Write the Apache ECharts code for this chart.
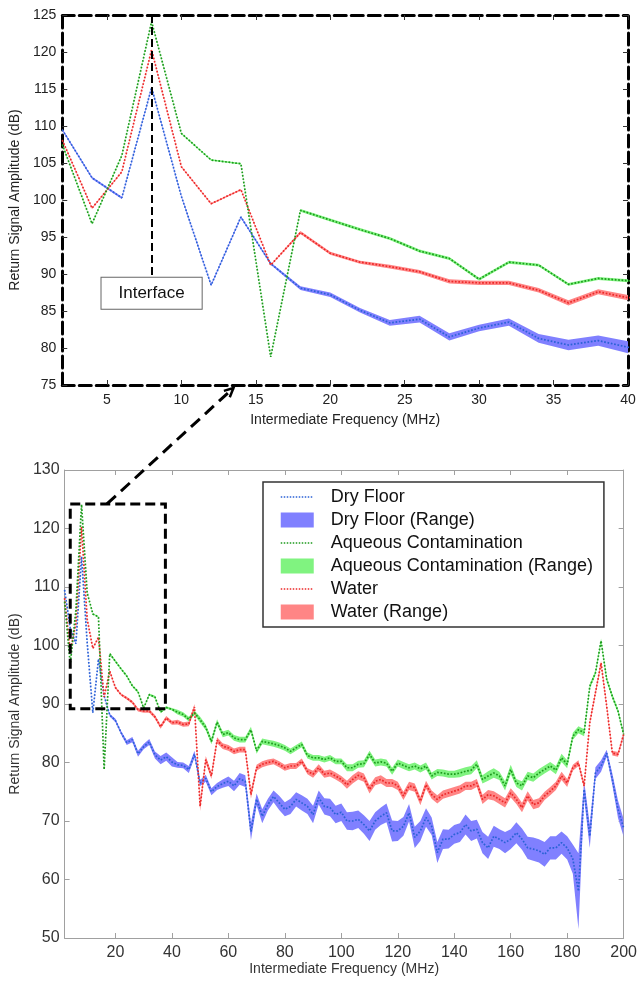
<!DOCTYPE html>
<html>
<head>
<meta charset="UTF-8">
<title>Return Signal Amplitude</title>
<script src="https://cdn.jsdelivr.net/npm/echarts@6/dist/echarts.min.js"></script>
<style>
  html, body { margin: 0; padding: 0; background: #fff; }
  #chart { width: 640px; height: 982px; }
</style>
</head>
<body>
<div id="chart"></div>
<script>
// intermediate frequency (MHz)
var freq = [2,4,6,8,10,12,14,16,18,20,22,24,26,28,30,32,34,36,38,40,
  42,44,46,48,50,52,54,56,58,60,62,64,66,68,70,72,74,76,78,80,
  82,84,86,88,90,92,94,96,98,100,102,104,106,108,110,112,114,116,118,120,
  122,124,126,128,130,132,134,136,138,140,142,144,146,148,150,152,154,156,158,160,
  162,164,166,168,170,172,174,176,178,180,182,184,186,188,190,192,194,196,198,200];

// mean return amplitude (dB)
var dryFloor = [109.5,103.0,100.3,115.2,100.5,88.5,97.7,91.4,88.1,87.2,85.1,83.4,83.9,81.5,82.7,83.5,81.3,80.4,81.0,80.1,
  79.6,79.5,78.8,81.4,76.5,77.3,75.0,75.9,76.4,76.8,76.0,77.2,76.8,68.2,73.7,70.8,72.8,74.2,73.1,72.0,
  72.5,73.7,73.1,72.5,71.1,74.0,72.5,72.3,71.1,71.5,70.0,70.0,70.3,69.4,68.3,70.0,70.8,71.4,68.3,68.3,
  69.1,71.4,67.2,68.3,70.6,69.1,64.6,66.9,66.9,67.7,68.0,69.4,68.3,68.6,66.3,65.4,67.4,66.9,66.3,66.9,
  68.0,66.9,65.4,65.2,64.9,64.3,65.4,65.4,66.3,65.4,63.5,58.0,75.4,67.4,78.2,79.4,81.6,77.1,72.0,68.8];
var aqueous = [107.5,96.8,106.0,124.1,109.0,105.4,104.9,78.8,98.6,97.3,96.0,94.8,93.1,92.1,89.3,91.6,91.2,88.6,89.4,89.1,
  88.6,88.2,87.4,88.5,87.3,86.0,83.6,86.9,84.8,85.1,84.2,83.9,83.9,85.6,82.0,83.6,83.4,83.2,82.9,82.5,
  81.9,82.5,83.1,81.2,80.8,80.8,80.5,80.8,80.2,80.2,79.1,79.1,79.7,79.8,81.4,79.9,80.1,79.9,78.5,79.9,
  79.5,79.1,79.4,78.9,79.4,77.7,78.3,78.2,78.0,78.0,78.2,78.5,78.7,79.7,77.1,77.7,78.2,77.7,76.0,78.8,
  76.5,76.0,77.7,77.4,78.2,78.8,79.4,78.7,80.8,79.7,84.5,85.6,85.1,93.0,95.3,100.8,94.2,91.3,88.8,84.8];
var water = [108.1,98.9,103.8,120.3,104.5,99.5,101.4,91.2,95.6,92.8,91.6,91.0,90.3,89.0,88.8,88.8,87.8,86.1,87.6,86.8,
  86.9,86.5,86.6,89.5,72.5,80.5,77.7,83.8,82.8,82.5,81.9,82.2,82.2,74.5,79.1,79.7,80.0,80.2,79.7,79.1,
  79.4,79.4,80.2,78.5,78.0,79.1,78.0,78.2,77.7,77.1,76.2,77.1,77.8,77.4,75.4,76.8,77.1,76.5,76.5,76.0,
  74.3,76.0,75.7,73.4,76.2,74.5,73.7,74.5,74.8,75.1,75.4,76.0,76.0,76.5,73.7,74.5,74.3,73.7,73.1,74.8,
  73.7,72.3,74.3,72.8,73.1,74.3,75.1,76.0,77.7,76.5,79.1,79.9,76.0,86.8,91.9,97.0,89.6,81.6,81.4,84.8];

// half of the min-max range (dB)
var dryFloorHalf = [0.15,0.15,0.15,0.15,0.15,0.15,0.15,0.15,0.25,0.3,0.3,0.4,0.45,0.5,0.45,0.5,0.6,0.7,0.7,0.8,
  0.5,0.5,0.6,0.6,0.5,0.6,0.6,0.6,0.7,0.8,0.9,1.0,1.0,1.5,1.0,1.2,1.0,1.0,1.2,1.2,
  1.3,1.2,1.3,1.3,1.5,1.2,1.4,1.5,1.5,1.5,1.5,1.6,1.5,1.6,1.7,1.5,1.5,1.6,1.8,1.7,
  1.6,1.5,1.8,1.7,1.6,1.5,1.8,1.7,1.6,1.6,1.6,1.7,1.7,1.6,1.8,1.9,1.8,1.7,1.8,1.7,
  1.8,1.8,1.9,2.0,2.0,2.1,2.0,2.0,1.9,2.0,2.5,6.5,1.5,2.0,1.0,1.0,0.6,1.0,1.5,1.5];
var aqueousHalf = [0.1,0.1,0.1,0.1,0.1,0.1,0.1,0.1,0.2,0.2,0.2,0.2,0.2,0.2,0.2,0.2,0.2,0.2,0.2,0.2,
  0.4,0.4,0.4,0.4,0.5,0.5,0.5,0.5,0.5,0.5,0.5,0.5,0.5,0.5,0.5,0.5,0.5,0.5,0.5,0.5,
  0.5,0.5,0.5,0.5,0.5,0.5,0.5,0.5,0.5,0.5,0.6,0.6,0.6,0.6,0.6,0.6,0.6,0.6,0.6,0.6,
  0.6,0.6,0.6,0.6,0.6,0.6,0.6,0.6,0.6,0.6,0.7,0.7,0.7,0.7,0.7,0.8,0.8,0.7,0.8,0.8,
  0.7,0.8,0.7,0.7,0.7,0.7,0.7,0.7,0.7,0.7,0.6,0.6,0.6,0.4,0.4,0.4,0.4,0.4,0.4,0.4];
var waterHalf = [0.1,0.1,0.1,0.1,0.1,0.1,0.1,0.1,0.2,0.2,0.2,0.25,0.25,0.3,0.3,0.3,0.3,0.35,0.35,0.35,
  0.4,0.4,0.4,0.5,0.8,0.6,0.5,0.5,0.5,0.5,0.5,0.5,0.5,0.7,0.5,0.5,0.5,0.5,0.5,0.5,
  0.5,0.5,0.5,0.5,0.6,0.6,0.6,0.6,0.6,0.6,0.7,0.7,0.7,0.7,0.7,0.7,0.7,0.7,0.7,0.7,
  0.7,0.7,0.7,0.7,0.7,0.7,0.7,0.7,0.7,0.7,0.7,0.7,0.7,0.7,0.8,0.8,0.8,0.8,0.8,0.8,
  0.8,0.8,0.8,0.8,0.8,0.7,0.7,0.7,0.7,0.7,0.5,0.5,0.5,0.4,0.4,0.4,0.4,0.4,0.4,0.4];

// tick labels
var zoomXTicks = [5,10,15,20,25,30,35,40];
var fullXTicks = [20,40,60,80,100,120,140,160,180,200];

var FONT = '"Liberation Sans", Helvetica, Arial, sans-serif';
var colors = {
  dry: '#2a62d6', dryBand: '#8080ff',
  aq: '#1c9a1c', aqBand: '#80f380',
  wat: '#ec2828', watBand: '#ff8585'
};

function pairs(vals) {
  return freq.map(function (f, i) { return [f, vals[i]]; });
}

// range band: one polygon through the upper and lower edges
function bandRender(mean, half, color) {
  return function (params, api) {
    if (params.dataIndex !== 0) return;
    var up = [], lo = [];
    for (var i = 0; i < freq.length; i++) {
      up.push(api.coord([freq[i], mean[i] + half[i]]));
      lo.unshift(api.coord([freq[i], mean[i] - half[i]]));
    }
    var cs = params.coordSys;
    return {
      type: 'polygon',
      shape: { points: up.concat(lo) },
      style: { fill: color },
      clipPath: { type: 'rect', shape: { x: cs.x, y: cs.y, width: cs.width, height: cs.height } }
    };
  };
}

function band(name, mean, half, color, g) {
  return {
    name: name, type: 'custom', xAxisIndex: g * 2, yAxisIndex: g * 2,
    renderItem: bandRender(mean, half, color),
    itemStyle: { color: color },
    data: [[freq[0], mean[0]]],
    encode: { x: 0, y: 1 },
    silent: true, z: 1
  };
}

function line(name, vals, color, g) {
  return {
    name: name, type: 'line', xAxisIndex: g * 2, yAxisIndex: g * 2,
    data: pairs(vals),
    symbol: 'none', showSymbol: false,
    lineStyle: { type: 'dotted', width: 1.7, color: color },
    itemStyle: { color: color },
    z: 3, silent: true
  };
}

var series = [];
[0, 1].forEach(function (g) {
  series.push(band('Dry Floor (Range)', dryFloor, dryFloorHalf, colors.dryBand, g));
  series.push(band('Aqueous Contamination (Range)', aqueous, aqueousHalf, colors.aqBand, g));
  series.push(band('Water (Range)', water, waterHalf, colors.watBand, g));
  series.push(line('Dry Floor', dryFloor, colors.dry, g));
  series.push(line('Water', water, colors.wat, g));
  series.push(line('Aqueous Contamination', aqueous, colors.aq, g));
});

// "Interface" marker in the zoomed chart
series[5].markLine = {
  silent: true, symbol: ['none', 'none'], animation: false,
  lineStyle: { color: '#000', type: [8, 4], width: 2 },
  label: {
    show: true, position: 'end', distance: 0, formatter: 'Interface',
    fontFamily: FONT, fontSize: 17, color: '#111',
    backgroundColor: '#fff', borderColor: '#666', borderWidth: 1, padding: [7, 17]
  },
  data: [[{ coord: [8, 125] }, { coord: [8, 89.5] }]]
};

// zoom window in the full chart
series[11].markArea = {
  silent: true, z: 10,
  itemStyle: { color: 'rgba(0,0,0,0)', borderColor: '#000', borderWidth: 3, borderType: [10, 5] },
  data: [[{ coord: [4, 124.2] }, { coord: [37.7, 89.2] }]]
};

var dashedAxis = { lineStyle: { color: '#000', width: 3, type: [12, 5] } };
var zoomTick = { inside: true, length: 5, lineStyle: { color: '#333' } };
var fullAxis = { lineStyle: { color: '#a0a0a0', width: 1 } };
var fullTick = { inside: true, length: 5, lineStyle: { color: '#a0a0a0' } };

// legend entry for a dotted line: no marker, only the line
function lineEntry(name, color) {
  return {
    name: name,
    itemStyle: { opacity: 0 },
    lineStyle: { type: 'dotted', width: 1.5, color: color }
  };
}

var option = {
  animation: false,
  backgroundColor: '#fff',
  grid: [
    { left: 61, right: 12, top: 15, height: 370 },
    { left: 57, right: 13, top: 470, height: 468 }
  ],
  xAxis: [
    { gridIndex: 0, type: 'value', min: 2, max: 40, position: 'bottom',
      axisLine: dashedAxis, axisTick: Object.assign({ customValues: zoomXTicks }, zoomTick),
      axisLabel: { customValues: zoomXTicks, fontSize: 14, color: '#222', fontFamily: FONT, margin: 8 },
      splitLine: { show: false },
      name: 'Intermediate Frequency (MHz)', nameLocation: 'middle', nameGap: 28,
      nameTextStyle: { fontSize: 14, color: '#222', fontFamily: FONT } },
    { gridIndex: 0, type: 'value', min: 2, max: 40, position: 'top',
      axisLine: dashedAxis, axisTick: Object.assign({ customValues: zoomXTicks }, zoomTick),
      axisLabel: { show: false }, splitLine: { show: false } },
    { gridIndex: 1, type: 'value', min: 2, max: 200, position: 'bottom',
      axisLine: fullAxis, axisTick: Object.assign({ customValues: fullXTicks }, fullTick),
      axisLabel: { customValues: fullXTicks, fontSize: 16, color: '#333', fontFamily: FONT, margin: 7 },
      splitLine: { show: false },
      name: 'Intermediate Frequency (MHz)', nameLocation: 'middle', nameGap: 24,
      nameTextStyle: { fontSize: 14, color: '#333', fontFamily: FONT } },
    { gridIndex: 1, type: 'value', min: 2, max: 200, position: 'top',
      axisLine: fullAxis, axisTick: Object.assign({ customValues: fullXTicks }, fullTick),
      axisLabel: { show: false }, splitLine: { show: false } }
  ],
  yAxis: [
    { gridIndex: 0, type: 'value', min: 75, max: 125, interval: 5, position: 'left',
      axisLine: dashedAxis, axisTick: zoomTick,
      axisLabel: { fontSize: 14, color: '#222', fontFamily: FONT, margin: 6 },
      splitLine: { show: false },
      name: 'Return Signal Amplitude (dB)', nameLocation: 'middle', nameGap: 34,
      nameTextStyle: { fontSize: 14, color: '#222', fontFamily: FONT } },
    { gridIndex: 0, type: 'value', min: 75, max: 125, interval: 5, position: 'right',
      axisLine: dashedAxis, axisTick: zoomTick, axisLabel: { show: false }, splitLine: { show: false } },
    { gridIndex: 1, type: 'value', min: 50, max: 130, interval: 10, position: 'left',
      axisLine: fullAxis, axisTick: fullTick,
      axisLabel: { fontSize: 16, color: '#333', fontFamily: FONT, margin: 5 },
      splitLine: { show: false },
      name: 'Return Signal Amplitude (dB)', nameLocation: 'middle', nameGap: 33,
      nameTextStyle: { fontSize: 14, color: '#333', fontFamily: FONT } },
    { gridIndex: 1, type: 'value', min: 50, max: 130, interval: 10, position: 'right',
      axisLine: fullAxis, axisTick: fullTick, axisLabel: { show: false }, splitLine: { show: false } }
  ],
  legend: {
    orient: 'vertical', left: 263, top: 482,
    padding: [6, 11, 6, 17],
    borderColor: '#333', borderWidth: 1.5, backgroundColor: '#fff',
    itemWidth: 33, itemHeight: 15, itemGap: 5,
    selectedMode: false,
    textStyle: { fontSize: 18, color: '#111', fontFamily: FONT, padding: [0, 0, 0, 12] },
    data: [
      lineEntry('Dry Floor', colors.dry),
      { name: 'Dry Floor (Range)', icon: 'rect' },
      lineEntry('Aqueous Contamination', colors.aq),
      { name: 'Aqueous Contamination (Range)', icon: 'rect' },
      lineEntry('Water', colors.wat),
      { name: 'Water (Range)', icon: 'rect' }
    ]
  },
  series: series
};

var chart = echarts.init(document.getElementById('chart'), null, { renderer: 'canvas' });
chart.setOption(option);

// dashed arrow from the zoom window up to the zoomed chart
var p0 = chart.convertToPixel({ gridIndex: 1 }, [17, 124.2]);
var p1 = chart.convertToPixel({ gridIndex: 0 }, [13.5, 74.6]);
var ang = Math.atan2(p1[1] - p0[1], p1[0] - p0[0]);
var head = 10, spread = 0.45;
chart.setOption({
  graphic: [
    { type: 'line', z: 20, silent: true,
      shape: { x1: p0[0], y1: p0[1], x2: p1[0], y2: p1[1] },
      style: { stroke: '#000', lineWidth: 3, lineDash: [12, 7] } },
    { type: 'polyline', z: 20, silent: true,
      shape: { points: [
        [p1[0] - head * Math.cos(ang - spread), p1[1] - head * Math.sin(ang - spread)],
        [p1[0], p1[1]],
        [p1[0] - head * Math.cos(ang + spread), p1[1] - head * Math.sin(ang + spread)]
      ] },
      style: { stroke: '#000', lineWidth: 2.5, fill: null } }
  ]
});
</script>
</body>
</html>
